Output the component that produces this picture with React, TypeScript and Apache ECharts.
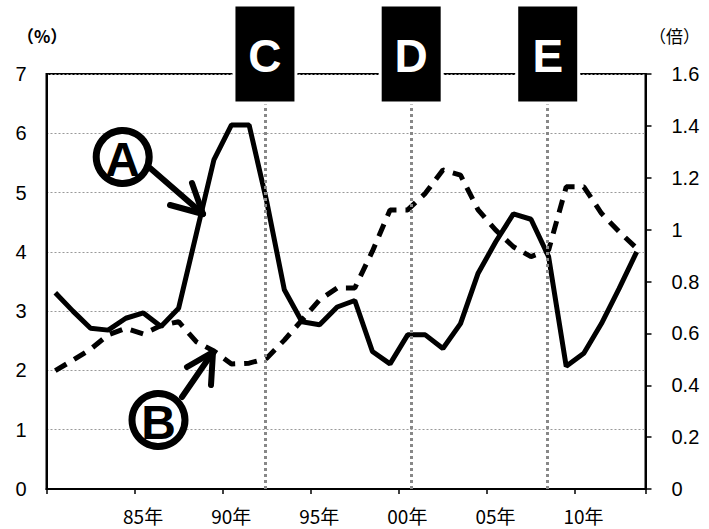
import React, { useEffect, useRef } from "react";
import * as echarts from "echarts";

const years = [
  1980, 1981, 1982, 1983, 1984, 1985, 1986, 1987, 1988, 1989,
  1990, 1991, 1992, 1993, 1994, 1995, 1996, 1997, 1998, 1999,
  2000, 2001, 2002, 2003, 2004, 2005, 2006, 2007, 2008, 2009,
  2010, 2011, 2012, 2013,
];
// A: left axis (%)
const seriesA = [
  3.31, 3.0, 2.71, 2.68, 2.88, 2.97, 2.74, 3.05, 4.3, 5.55,
  6.14, 6.14, 4.85, 3.36, 2.82, 2.77, 3.07, 3.18, 2.32, 2.11,
  2.6, 2.6, 2.37, 2.79, 3.64, 4.17, 4.64, 4.55, 3.92, 2.07,
  2.29, 2.79, 3.38, 4.0,
];
// B: right axis (倍)
const seriesB = [
  0.456, 0.497, 0.539, 0.594, 0.62, 0.598, 0.63, 0.645, 0.568, 0.532,
  0.482, 0.485, 0.504, 0.574, 0.651, 0.729, 0.775, 0.775, 0.917, 1.076,
  1.076, 1.14, 1.23, 1.21, 1.076, 0.998, 0.934, 0.896, 0.921, 1.165,
  1.165, 1.063, 0.992, 0.928,
];
const xTickYears = [1985, 1990, 1995, 2000, 2005, 2010];
const xTickLabels = ["85年", "90年", "95年", "00年", "05年", "10年"];
const markerLabels = ["C", "D", "E"];
const markerYears = [1992.4, 2000.7, 2008.45];

const NUM_FONT = "'Liberation Sans', Arial, sans-serif";
const CJK_FONT = "'Noto Sans CJK JP', 'Liberation Sans', sans-serif";

export default function App() {
  const ref = useRef<HTMLDivElement>(null);
  useEffect(() => {
    if (!ref.current) return;
    const chart = echarts.init(ref.current, undefined, { renderer: "svg" });
    const option: any = {
      animation: false,
      grid: {
        left: 46.5,
        right: 63.5,
        top: 74,
        bottom: 40,
        show: true,
        borderColor: "#000",
        borderWidth: 2,
        backgroundColor: "transparent",
      },
      xAxis: {
        type: "value",
        min: 1980,
        max: 2014,
        interval: 5,
        axisLine: { show: true, lineStyle: { color: "#000", width: 2 } },
        axisTick: { show: true, length: 5, lineStyle: { color: "#000", width: 1.5 } },
        splitLine: { show: false },
        axisLabel: {
          margin: 16,
          color: "#000",
          formatter: (v: number) => {
            const i = xTickYears.indexOf(Math.round(v));
            if (i < 0) return "";
            return "{a|" + xTickLabels[i] + "}";
          },
          rich: {
            a: {
              padding: [0, 0, 0, 17],
              fontSize: 19,
              lineHeight: 20,
              fontFamily: CJK_FONT,
              color: "#000",
            },
          },
        },
      },
      yAxis: [
        {
          type: "value",
          min: 0,
          max: 7,
          interval: 1,
          position: "left",
          axisLine: { show: true, lineStyle: { color: "#000", width: 2 } },
          axisTick: { show: false },
          splitLine: { show: true, lineStyle: { type: [2, 2], color: "#999", width: 1 } },
          axisLabel: { margin: 20, color: "#000", fontSize: 20, fontFamily: NUM_FONT },
        },
        {
          type: "value",
          min: 0,
          max: 1.6,
          interval: 0.2,
          position: "right",
          axisLine: { show: true, lineStyle: { color: "#000", width: 2 } },
          axisTick: { show: true, length: 6, lineStyle: { color: "#000", width: 1.5 } },
          splitLine: { show: false },
          axisLabel: { margin: 26, color: "#000", fontSize: 20, fontFamily: NUM_FONT },
        },
      ],
      series: [
        {
          type: "line",
          yAxisIndex: 0,
          data: years.map((y, i) => [y + 0.5, seriesA[i]]),
          symbol: "none",
          lineStyle: { color: "#000", width: 5 },
          z: 2,
        },
        {
          type: "line",
          yAxisIndex: 1,
          data: years.map((y, i) => [y + 0.5, seriesB[i]]),
          symbol: "none",
          lineStyle: { color: "#000", width: 5, type: [13, 9] },
          z: 2,
        },
        {
          type: "line",
          yAxisIndex: 0,
          data: [],
          z: 10,
          markLine: {
            silent: true,
            symbol: ["none", "none"],
            label: { show: false },
            lineStyle: { type: [3, 3], color: "#888", width: 3 },
            data: markerYears.map((x) => ({ xAxis: x })),
          },
        },
      ],
    };
    chart.setOption(option);

    const graphics: any[] = [];
    markerYears.forEach((yr, i) => {
      const px = chart.convertToPixel({ xAxisIndex: 0 }, yr) as number;
      graphics.push({
        type: "rect",
        shape: { x: px - 31, y: 5, width: 62, height: 98 },
        style: { fill: "#000", stroke: "#fff", lineWidth: 3 },
        z: 100,
      });
      graphics.push({
        type: "text",
        x: px,
        y: 56,
        style: {
          text: markerLabels[i],
          fill: "#fff",
          font: "bold 46px " + NUM_FONT,
          align: "center",
          verticalAlign: "middle",
        },
        z: 101,
      });
    });
    // axis unit labels
    graphics.push({
      type: "text",
      x: 17,
      y: 35,
      style: { text: "（%）", fill: "#000", font: "bold 17px " + CJK_FONT, verticalAlign: "middle" },
    });
    graphics.push({
      type: "text",
      x: 649,
      y: 35,
      style: { text: "（倍）", fill: "#000", font: "17px " + CJK_FONT, verticalAlign: "middle" },
    });
    // circled annotations
    const circled = [
      { t: "A", cx: 122.7, cy: 157 },
      { t: "B", cx: 158.5, cy: 420 },
    ];
    circled.forEach((c) => {
      graphics.push({
        type: "circle",
        shape: { cx: c.cx, cy: c.cy, r: 26.5 },
        style: { fill: "#fff", stroke: "#000", lineWidth: 7 },
        z: 50,
      });
      graphics.push({
        type: "text",
        x: c.cx,
        y: c.cy + 2,
        style: {
          text: c.t,
          fill: "#000",
          font: "bold 48px " + NUM_FONT,
          align: "center",
          verticalAlign: "middle",
        },
        z: 51,
      });
    });
    const arrows = [
      { s: [150, 168], t: [203, 214], a1: [192, 183], a2: [170, 205] },
      { s: [182, 397], t: [213, 352], a1: [187, 367], a2: [211, 385] },
    ];
    arrows.forEach((a) => {
      const ls = { stroke: "#000", lineWidth: 6, lineCap: "round" };
      graphics.push({ type: "line", shape: { x1: a.s[0], y1: a.s[1], x2: a.t[0], y2: a.t[1] }, style: ls, z: 50 });
      graphics.push({
        type: "polyline",
        shape: { points: [a.a1, a.t, a.a2] },
        style: { ...ls, fill: "none", lineJoin: "round" },
        z: 50,
      });
    });
    chart.setOption({ graphic: graphics });

    return () => chart.dispose();
  }, []);
  return (
    <div
      ref={ref}
      style={{ position: "fixed", left: 0, top: 0, width: 709, height: 529, background: "#fff" }}
    />
  );
}
